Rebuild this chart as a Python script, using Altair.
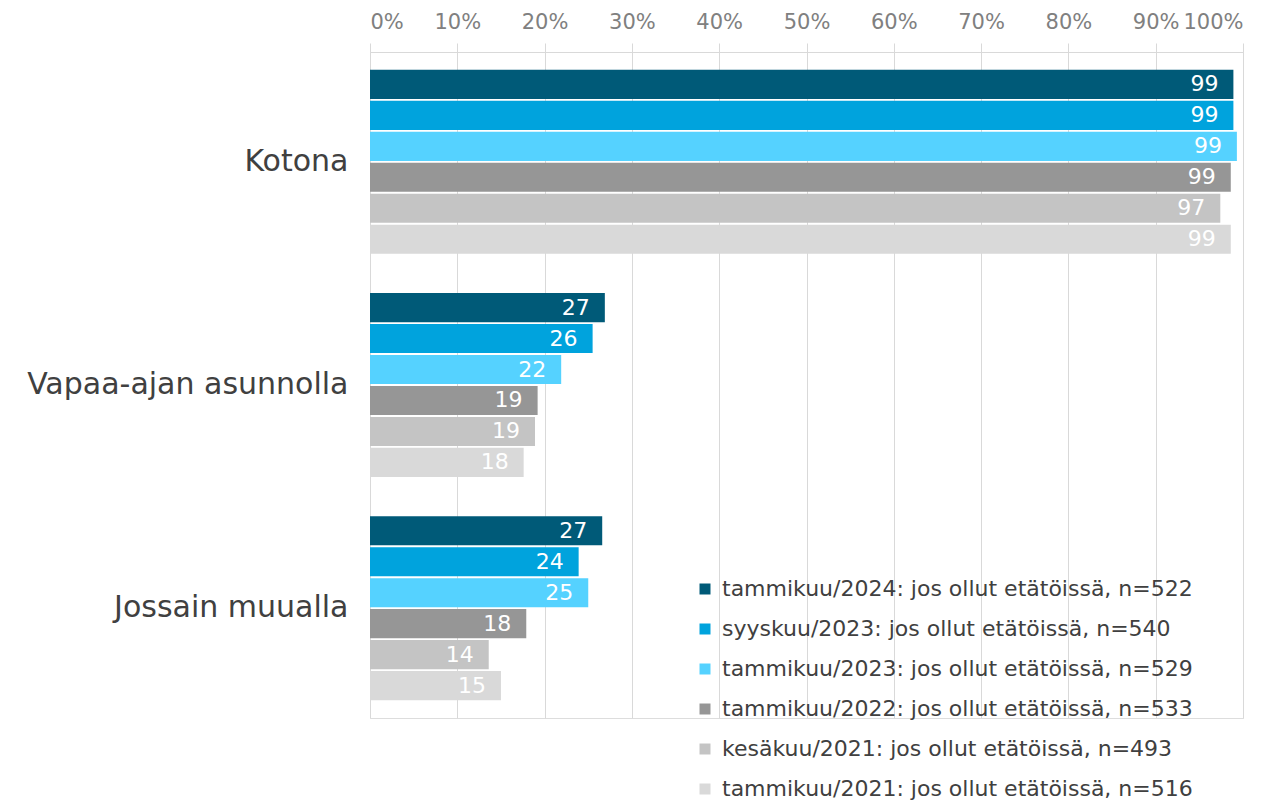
import altair as alt
import pandas as pd

categories = ["Kotona", "Vapaa-ajan asunnolla", "Jossain muualla"]
series = [
    "tammikuu/2024: jos ollut etätöissä, n=522",
    "syyskuu/2023: jos ollut etätöissä, n=540",
    "tammikuu/2023: jos ollut etätöissä, n=529",
    "tammikuu/2022: jos ollut etätöissä, n=533",
    "kesäkuu/2021: jos ollut etätöissä, n=493",
    "tammikuu/2021: jos ollut etätöissä, n=516",
]
colors = ["#005A78", "#00A3DD", "#55D2FF", "#969696", "#C4C4C4", "#D9D9D9"]
values = {
    "Kotona": [98.9, 98.9, 99.3, 98.6, 97.4, 98.6],
    "Vapaa-ajan asunnolla": [26.9, 25.5, 21.9, 19.2, 18.9, 17.6],
    "Jossain muualla": [26.6, 23.9, 25.0, 17.9, 13.6, 15.0],
}
labels = {
    "Kotona": [99, 99, 99, 99, 97, 99],
    "Vapaa-ajan asunnolla": [27, 26, 22, 19, 19, 18],
    "Jossain muualla": [27, 24, 25, 18, 14, 15],
}

rows = []
for c in categories:
    for i, s in enumerate(series):
        rows.append({"cat": c, "series": s, "value": values[c][i] / 100.0,
                     "label": str(labels[c][i])})
df = pd.DataFrame(rows)

FONT = "DejaVu Sans"

y_enc = alt.Y("cat:N", sort=categories,
              scale=alt.Scale(paddingInner=0.176, paddingOuter=0.08),
              axis=alt.Axis(title=None, labelFontSize=30, labelColor="#404040",
                            labelFont=FONT, ticks=False, domain=False,
                            labelPadding=22, grid=False, labelLimit=400))
yoff = alt.YOffset("series:N", sort=series, scale=alt.Scale(paddingInner=0.06))

base = alt.Chart(df).encode(y=y_enc, yOffset=yoff)

bars = base.mark_bar().encode(
    x=alt.X("value:Q",
            scale=alt.Scale(domain=[0, 1], nice=False),
            axis=alt.Axis(orient="top", format=".0%", values=[i / 10 for i in range(11)],
                          title=None, labelFontSize=21, labelColor="#808080",
                          labelFont=FONT, tickColor="#d9d9d9", tickSize=9,
                          domainColor="#d9d9d9", gridColor="#d9d9d9",
                          labelPadding=11, grid=True, labelOverlap=False)),
    color=alt.Color("series:N", sort=series,
                    scale=alt.Scale(domain=series, range=colors),
                    legend=alt.Legend(title=None, orient="none", legendX=324, legendY=526,
                                      labelFontSize=22, labelColor="#404040",
                                      labelFont=FONT, symbolType="square",
                                      symbolSize=121, symbolStrokeWidth=0,
                                      rowPadding=18, labelOffset=6, labelLimit=700)),
)

text = base.mark_text(align="right", baseline="middle", dx=-15, fontSize=22,
                      color="white", font=FONT).encode(
    x=alt.X("value:Q"),
    text="label:N",
)

chart = (bars + text).properties(
    width=873, height=666,
    autosize=alt.AutoSizeParams(type="none"),
    padding={"left": 362, "top": 44, "right": 25, "bottom": 85},
).configure_view(stroke=None).configure(background="white")

chart.save("out.html", embed_options={"renderer": "svg", "actions": False})
